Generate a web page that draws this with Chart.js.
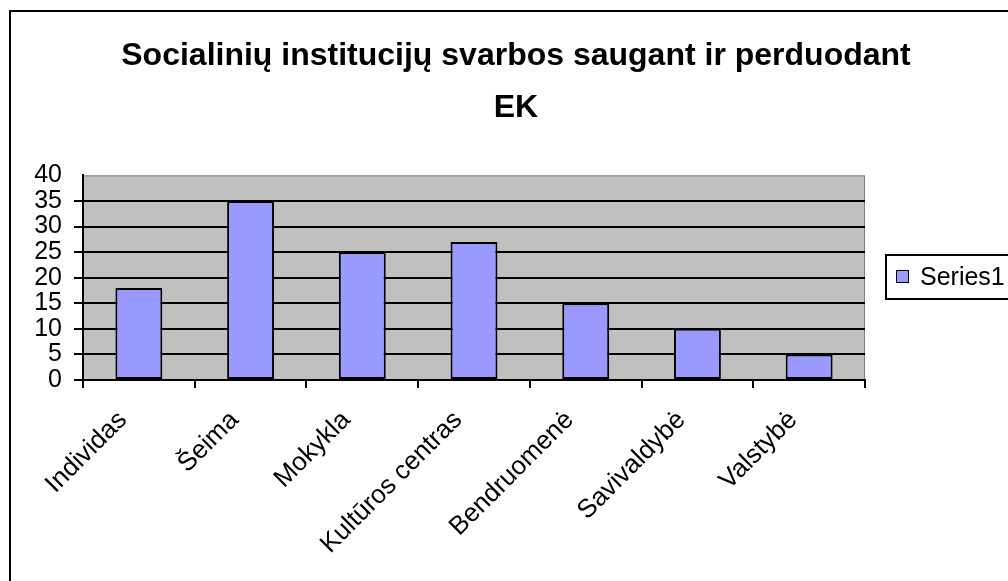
<!DOCTYPE html>
<html>
<head>
<meta charset="utf-8">
<script src="https://cdn.jsdelivr.net/npm/chart.js@4/dist/chart.umd.min.js"></script>
<style>
html,body{margin:0;padding:0;background:#fff;}
#wrap{width:1008px;height:581px;position:relative;}
</style>
</head>
<body>
<div id="wrap"><canvas id="c" width="1008" height="581"></canvas></div>
<script>
const titleLines = ['Socialinių institucijų svarbos saugant ir perduodant', 'EK'];
const categories = ['Individas', 'Šeima', 'Mokykla', 'Kultūros centras', 'Bendruomenė', 'Savivaldybė', 'Valstybė'];
const seriesName = 'Series1';
const values = [18, 35, 25, 27, 15, 10, 5];
const yMin = 0, yMax = 40, yStep = 5;

const FONT = "'Liberation Sans', Arial, sans-serif";
const BAR_COLOR = '#9999FF';

const framePlugin = {
  id: 'frame',
  beforeDraw(chart) {
    const ctx = chart.ctx;
    ctx.save();
    ctx.fillStyle = '#fff';
    ctx.fillRect(0, 0, chart.width, chart.height);
    ctx.strokeStyle = '#000';
    ctx.lineWidth = 2;
    ctx.strokeRect(10, 11, 1100, 700);
    const a = chart.chartArea;
    ctx.fillStyle = '#C0C0C0';
    ctx.fillRect(a.left, a.top, a.right - a.left, a.bottom - a.top);
    ctx.strokeStyle = '#808080';
    ctx.lineWidth = 1;
    ctx.strokeRect(a.left + 0.5, a.top + 0.5, a.right - a.left - 1, a.bottom - a.top - 1);
    ctx.restore();
  },
  afterDraw(chart) {
    const ctx = chart.ctx;
    const ds = chart.data.datasets[0];
    ctx.save();
    ctx.strokeStyle = '#000';
    ctx.lineWidth = 2;
    ctx.strokeRect(886, 255, 200, 44);
    ctx.fillStyle = ds.backgroundColor;
    ctx.fillRect(896, 270, 13, 13);
    ctx.lineWidth = 1;
    ctx.strokeRect(896.5, 270.5, 12, 12);
    ctx.fillStyle = '#000';
    ctx.font = '25px ' + FONT;
    ctx.textBaseline = 'alphabetic';
    ctx.textAlign = 'left';
    ctx.fillText(ds.label, 920, 285);
    ctx.restore();
  }
};

new Chart(document.getElementById('c'), {
  type: 'bar',
  data: {
    labels: categories,
    datasets: [{
      label: seriesName,
      data: values,
      backgroundColor: BAR_COLOR,
      borderColor: '#000',
      borderWidth: 2,
      borderSkipped: false,
      categoryPercentage: 1.0,
      barPercentage: 0.42
    }]
  },
  options: {
    responsive: false,
    animation: false,
    devicePixelRatio: 1,
    layout: { padding: { left: 24, right: 0, top: 0, bottom: 0 } },
    plugins: {
      legend: { display: false },
      tooltip: { enabled: false },
      title: {
        display: true,
        text: titleLines,
        color: '#000',
        font: { family: FONT, size: 32, weight: 'bold', lineHeight: 1.6 },
        padding: { top: 31, bottom: 42 }
      }
    },
    scales: {
      x: {
        offset: true,
        grid: { display: true, drawOnChartArea: false, drawTicks: true, offset: true, tickLength: 8, color: '#000', lineWidth: 2 },
        border: { display: true, color: '#000', width: 2 },
        ticks: {
          color: '#000', font: { family: FONT, size: 26 },
          minRotation: 45, maxRotation: 45, autoSkip: false, padding: 17, labelOffset: -16
        },
        afterFit(s) { s.height = 201; }
      },
      y: {
        min: yMin, max: yMax,
        grid: {
          color: (c) => (c.tick && c.tick.value === yMax) ? 'rgba(0,0,0,0)' : '#000',
          lineWidth: 2, tickLength: 9, drawTicks: true
        },
        border: { display: true, color: '#000', width: 2 },
        ticks: { stepSize: yStep, autoSkip: false, color: '#000', font: { family: FONT, size: 25 }, padding: 12 },
        afterFit(s) { s.width = 59; }
      },
      yR: {
        position: 'right',
        display: true,
        grid: { display: false },
        border: { display: false },
        ticks: { display: false },
        afterFit(s) { s.width = 143; }
      }
    }
  },
  plugins: [framePlugin]
});
</script>
</body>
</html>
